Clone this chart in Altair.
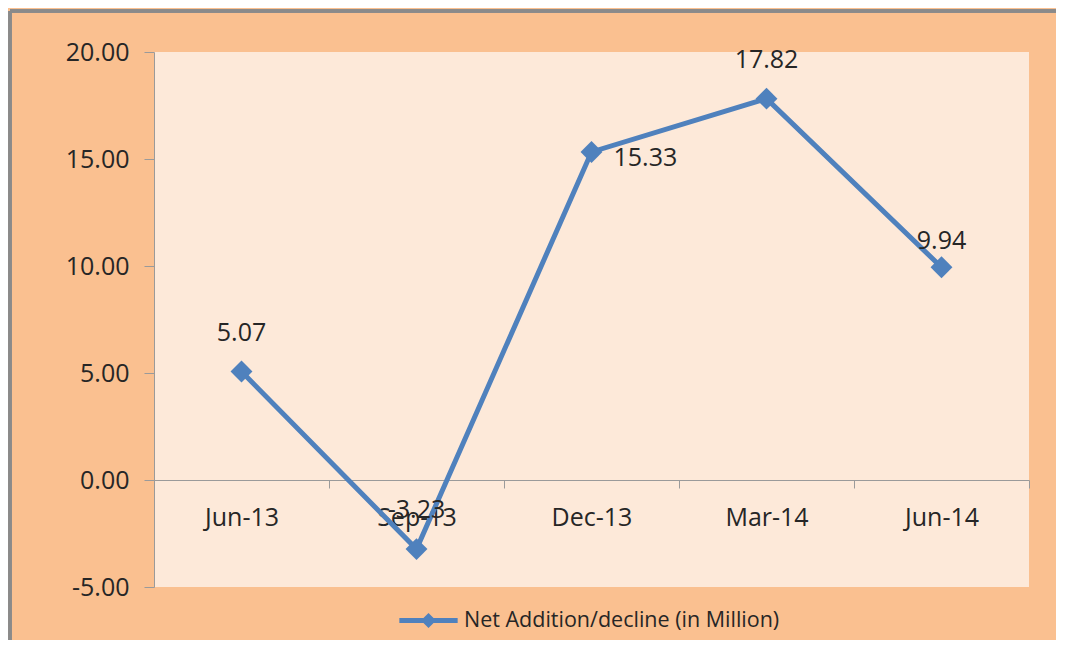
import altair as alt
import pandas as pd

months = ["Jun-13", "Sep-13", "Dec-13", "Mar-14", "Jun-14"]
values = [5.07, -3.23, 15.33, 17.82, 9.94]
series_name = "Net Addition/decline (in Million)"
y_ticks = [-5, 0, 5, 10, 15, 20]

df = pd.DataFrame({
    "month": months,
    "value": values,
    "label": [f"{v:.2f}" for v in values],
    "series": [series_name] * len(months),
})

FONT = "Open Sans"
TXT = "#262626"
BLUE = "#4F81BD"
W, H = 875, 535

x_enc = alt.X("month:N", sort=months, title=None,
              scale=alt.Scale(type="band", paddingInner=0, paddingOuter=0),
              axis=alt.Axis(offset=-H * 5 / 25, tickBand="extent", domainColor="#9a9a9a",
                            tickColor="#9a9a9a", tickSize=8, labelFont=FONT, labelFontSize=25,
                            labelColor=TXT, labelPadding=17, labelAngle=0, grid=False))
y_enc = alt.Y("value:Q", title=None,
              scale=alt.Scale(domain=[-5, 20], nice=False, zero=False),
              axis=alt.Axis(values=y_ticks, labelExpr="replace(format(datum.value, '.2f'), '\u2212', '-')",
                            domainColor="#9a9a9a", tickColor="#9a9a9a", tickSize=10,
                            labelFont=FONT, labelFontSize=25, labelColor=TXT, labelPadding=15,
                            grid=False))

base = alt.Chart(df)

legend_path = "M-1,-0.09H1V0.09H-1Z M0,-0.26L0.26,0L0,0.26L-0.26,0Z"
line = base.mark_line(strokeWidth=5).encode(
    x=x_enc, y=y_enc,
    color=alt.Color("series:N", scale=alt.Scale(range=[BLUE]),
                    legend=alt.Legend(title=None, orient="none", legendX=245, legendY=539,
                                      symbolType=legend_path, symbolSize=3400,
                                      symbolFillColor=BLUE, symbolStrokeWidth=0,
                                      labelFont=FONT, labelFontSize=21.5, labelColor=TXT,
                                      labelOffset=6, labelLimit=600)),
)
points = base.mark_point(shape="diamond", filled=True, size=480, color=BLUE, opacity=1).encode(
    x=alt.X("month:N", sort=months), y="value:Q")

txt_kw = dict(font=FONT, fontSize=25, color=TXT)
above = base.transform_filter(
    alt.FieldOneOfPredicate(field="month", oneOf=["Jun-13", "Sep-13", "Mar-14"])
).mark_text(dy=-39, **txt_kw).encode(x=alt.X("month:N", sort=months), y="value:Q", text="label:N")
above2 = base.transform_filter(
    alt.FieldEqualPredicate(field="month", equal="Jun-14")
).mark_text(dy=-26, **txt_kw).encode(x=alt.X("month:N", sort=months), y="value:Q", text="label:N")
right = base.transform_filter(
    alt.FieldEqualPredicate(field="month", equal="Dec-13")
).mark_text(dx=22, dy=6, align="left", **txt_kw).encode(x=alt.X("month:N", sort=months), y="value:Q", text="label:N")

frame_top = alt.Chart(df).mark_rule(stroke="#8a8a8a", strokeWidth=3).encode(
    x=alt.value(-144), x2=alt.value(1000), y=alt.value(-41))
frame_left = alt.Chart(df).mark_rule(stroke="#8a8a8a", strokeWidth=3).encode(
    x=alt.value(-144), y=alt.value(-41), y2=alt.value(800))

chart = alt.layer(frame_top, frame_left, line, points, above, above2, right).properties(
    width=W, height=H,
    padding={"left": 146, "top": 44, "right": 27, "bottom": 53},
    autosize=alt.AutoSizeParams(type="none"),
    background="#FAC090",
).configure_view(fill="#FDE9D9", stroke=None)

chart.save("out.html", embed_options={"renderer": "svg", "actions": False})
